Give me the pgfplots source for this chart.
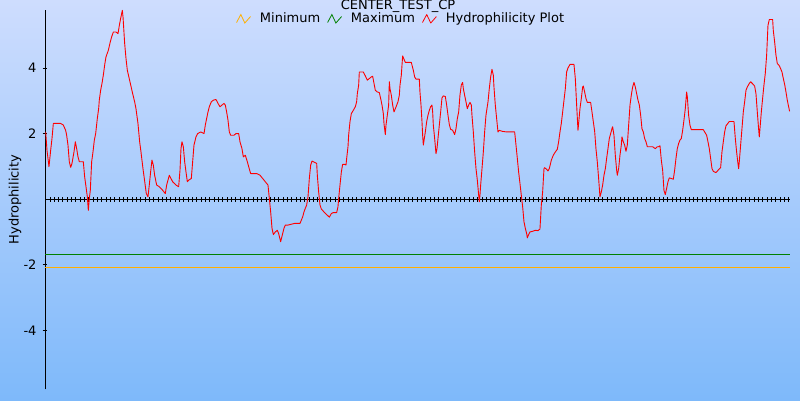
\documentclass[border=0pt]{standalone}
\usepackage{pgfplots}
\pgfplotsset{compat=1.18}
\usepackage{fontspec}
\setmainfont{DejaVu Sans}
\definecolor{bgtop}{RGB}{206,221,254}
\definecolor{bgbot}{RGB}{126,185,250}
\definecolor{minc}{RGB}{255,175,0}
\definecolor{maxc}{RGB}{0,128,0}
\begin{document}
\fontsize{13}{15}\selectfont
\begin{tikzpicture}
\shade[top color=bgtop, bottom color=bgbot] (0,0) rectangle (800pt,400pt);
\useasboundingbox (0,0) rectangle (800pt,400pt);
\begin{axis}[
  at={(45pt,10.7pt)}, anchor=south west,
  scale only axis, width=745pt, height=379.3pt,
  xmin=-0.16, xmax=172.3, ymin=-5.8, ymax=5.77,
  axis x line=middle, axis y line=left,
  axis line style={-, black, line width=1pt},
  xtick={1,...,172}, xticklabels={},
  ytick={-4,-2,2,4}, yticklabels={-4,-2,2,4},
  tick align=center, major tick length=5pt,
  every tick/.style={black, line width=1pt},
  yticklabel style={font=\fontsize{13}{15}\selectfont, xshift=-1.5pt},
  ylabel={Hydrophilicity},
  ylabel style={at={(axis description cs:-0.0403,0.5)}, anchor=center, font=\fontsize{13}{15}\selectfont},
  title={CENTER\_TEST\_CP},
  every axis title shift=0pt,
  title style={at={(axis description cs:0.4738,1.0)}, anchor=base, yshift=0pt, font=\fontsize{13}{15}\selectfont},
  legend columns=3,
  legend style={at={(axis description cs:0.478,0.9775)}, anchor=center, draw=none, fill=none,
    font=\fontsize{13}{15}\selectfont,
    /tikz/every odd column/.append style={column sep=7pt},
    /tikz/every even column/.append style={column sep=5pt}},
  legend image code/.code={\draw[#1, line width=0.8pt] (0pt,-4pt) -- (4.3pt,4pt) -- (8.3pt,-4.5pt) -- (14pt,2pt);},
  clip=false,
]
\addplot[minc, line width=1pt] coordinates {(-0.16,-2.08) (172.3,-2.08)};
\addlegendentry{Minimum}
\addplot[maxc, line width=1pt] coordinates {(-0.16,-1.69) (172.3,-1.69)};
\addlegendentry{Maximum}
\addplot[red, line width=0.9pt, line join=round] coordinates {
(0.0,2.05) (0.3,1.49) (0.76,0.99) (1.15,1.49) (1.46,1.85) (1.77,2.31) (3.46,2.31) (4.08,2.26) (4.62,2.10) (4.85,1.95) (5.16,1.65) (5.47,1.14) (5.78,0.97) (6.09,1.09) (6.55,1.44) (6.86,1.75) (7.17,1.54) (7.48,1.29) (7.79,1.14) (8.71,1.14) (9.02,0.68) (9.33,0.38) (9.64,0.07) (9.87,-0.34) (10.1,0.02) (10.33,0.27) (10.64,1.14) (10.95,1.44) (11.26,1.80) (11.57,2.00) (11.95,2.46) (12.26,2.76) (12.41,3.02) (12.72,3.32) (13.03,3.53) (13.34,3.78) (13.65,4.09) (13.96,4.34) (14.5,4.54) (14.96,4.80) (15.27,4.95) (15.66,5.10) (16.27,5.10) (16.74,5.05) (17.05,5.30) (17.35,5.51) (17.74,5.76) (17.9,5.56) (18.28,4.75) (18.59,4.29) (18.9,3.93) (19.51,3.58) (20.13,3.22) (20.59,2.97) (20.9,2.76) (21.36,2.31) (21.75,1.75) (22.06,1.44) (22.52,0.93) (22.83,0.63) (23.29,0.17) (23.68,0.07) (23.98,0.43) (24.29,0.83) (24.6,1.19) (24.91,1.04) (25.22,0.73) (25.69,0.43) (26.3,0.38) (27.08,0.27) (27.69,0.17) (28.0,0.43)
(28.62,0.73) (29.39,0.53) (30.16,0.43) (30.78,0.38) (31.09,0.88) (31.32,1.54) (31.55,1.75) (31.86,1.60) (32.17,1.14) (32.48,0.83) (32.79,0.53) (33.1,0.58) (33.71,0.63) (34.02,1.14) (34.33,1.65) (34.79,1.90) (35.18,2.00) (35.87,2.05) (36.65,2.00) (36.95,2.26) (37.26,2.46) (37.57,2.66) (37.88,2.82) (38.34,2.97) (38.81,3.02) (39.42,3.04) (39.89,2.92) (40.35,2.82) (40.81,2.87) (41.28,2.92) (41.58,2.87) (41.89,2.66) (42.2,2.41) (42.51,2.05) (42.82,1.95) (43.59,1.95) (44.05,2.00) (44.67,2.00) (44.98,1.75) (45.44,1.54) (45.75,1.29) (46.21,1.34) (46.68,1.14) (46.99,0.99) (47.45,0.78) (48.22,0.78) (48.84,0.78) (49.61,0.73) (50.23,0.63) (50.84,0.53) (51.46,0.43) (51.77,0.02) (52.08,-0.39) (52.39,-0.89) (52.7,-1.08) (53.16,-1.00) (53.62,-0.95) (53.93,-1.05) (54.39,-1.30) (54.86,-1.05) (55.16,-0.89) (55.47,-0.79) (56.09,-0.79) (56.71,-0.77)
(57.63,-0.74) (58.87,-0.74) (59.18,-0.64) (59.49,-0.54) (59.79,-0.39) (60.1,-0.28) (60.41,-0.18) (60.72,0.07) (61.03,0.63) (61.34,1.04) (61.65,1.16) (62.26,1.12) (62.73,1.09) (62.88,0.73) (63.19,0.22) (63.5,-0.18) (63.81,-0.30) (64.42,-0.39) (65.04,-0.47) (65.66,-0.55) (66.12,-0.44) (66.58,-0.41) (67.36,-0.41) (67.66,-0.23) (67.82,0.02) (68.13,0.43) (68.44,0.83) (68.74,1.06) (69.21,1.06) (69.52,1.04) (69.67,1.24) (69.98,1.60) (70.13,1.95) (70.44,2.36) (70.75,2.61) (71.21,2.71) (71.68,2.82) (71.98,2.97) (72.14,3.22) (72.45,3.48) (72.6,3.88) (73.53,3.88) (73.99,3.76) (74.45,3.63) (74.92,3.68) (75.38,3.73) (75.69,3.75) (76.0,3.53) (76.31,3.32) (76.77,3.27) (77.23,3.25) (77.54,3.07) (77.85,2.87) (78.16,2.61) (78.31,2.31) (78.62,1.97) (78.78,2.26) (79.08,2.56) (79.39,2.87) (79.55,3.58) (79.7,3.37) (80.01,3.17) (80.32,2.87) (80.63,2.66) (80.94,2.76) (81.55,2.97) (81.86,3.17) (82.02,3.48) (82.32,3.78) (82.63,4.37) (82.94,4.27) (83.25,4.17) (83.87,4.17) (84.64,4.17)
(85.1,3.93) (85.41,3.73) (85.72,3.66) (86.49,3.66) (86.64,3.27) (86.88,2.87) (87.11,2.36) (87.26,1.95) (87.42,1.65) (87.65,1.85) (87.88,2.05) (88.19,2.36) (88.5,2.56) (88.81,2.71) (89.11,2.82) (89.42,2.87) (89.58,2.66) (89.73,2.26) (90.04,1.85) (90.35,1.39) (90.58,1.54) (90.81,1.85) (91.12,2.26) (91.43,2.66) (91.74,3.09) (92.05,3.15) (92.51,3.13) (92.82,2.87) (93.13,2.56) (93.43,2.28) (93.74,2.13) (94.21,2.10) (94.67,1.97) (94.98,2.15) (95.29,2.46) (95.6,2.66) (95.9,3.17) (96.21,3.48) (96.52,3.56) (96.68,3.37) (96.98,3.17) (97.29,2.97) (97.6,2.76) (97.91,2.87) (98.22,2.95) (98.53,2.87) (98.68,2.56) (98.99,2.05) (99.3,1.44) (99.61,0.93) (99.92,0.58) (100.23,0.12) (100.38,-0.08) (100.53,0.12) (100.69,0.43) (101.0,0.93) (101.31,1.44) (101.61,2.05) (101.92,2.56) (102.39,2.97) (102.69,3.37) (103.0,3.73) (103.31,3.96) (103.62,3.78) (103.77,3.42) (104.08,2.87) (104.39,2.46) (104.7,2.05) (105.01,2.10) (105.63,2.07) (106.71,2.05) (108.56,2.05) (108.87,1.65) (109.18,1.24) (109.48,0.83) (109.79,0.48) (110.1,0.12) (110.41,-0.23) (110.72,-0.69) (111.03,-0.89) (111.34,-1.05) (111.49,-1.18) (111.8,-1.08) (112.11,-1.00) (112.72,-0.98) (113.34,-0.95)
(113.96,-0.96) (114.42,-0.91) (114.73,-0.18) (115.04,0.22) (115.35,0.93) (115.5,0.96) (115.97,0.91) (116.27,0.86) (116.58,0.93) (117.05,1.19) (117.51,1.34) (117.97,1.44) (118.43,1.52) (118.74,1.75) (119.05,2.05) (119.36,2.31) (119.67,2.66) (119.98,3.02) (120.29,3.37) (120.59,3.88) (120.9,4.00) (121.37,4.11) (122.29,4.11) (122.6,3.68) (122.91,2.87) (123.22,2.10) (123.37,2.31) (123.68,2.76) (123.99,3.07) (124.3,3.42) (124.45,3.45) (124.76,3.27) (125.07,3.07) (125.38,2.95) (126.15,2.95) (126.46,2.66) (126.77,2.36) (127.08,2.07) (127.38,1.54) (127.69,1.14) (128.0,0.63) (128.31,0.07) (128.62,0.22) (128.93,0.43) (129.24,0.73) (129.55,0.93) (129.85,1.24) (130.16,1.54) (130.47,1.85) (130.78,2.00) (131.09,2.15) (131.24,2.21) (131.55,1.95) (131.86,1.34) (132.17,0.88) (132.32,0.73) (132.63,0.93) (132.94,1.34) (133.25,1.65) (133.4,1.90) (133.71,1.75) (134.02,1.65) (134.33,1.46) (134.64,1.65) (134.95,2.26) (135.26,2.87) (135.56,3.17) (135.87,3.42) (136.18,3.56) (136.49,3.42) (136.8,3.22) (137.11,3.02) (137.42,2.87) (137.73,2.56) (138.03,2.15) (138.34,2.05) (138.65,1.85) (138.96,1.75) (139.27,1.60) (139.73,1.60) (140.5,1.60) (141.12,1.54) (141.58,1.60)
(141.89,1.60) (142.2,1.63) (142.51,1.19) (142.82,0.88) (143.12,0.27) (143.43,0.14) (143.74,0.33) (144.05,0.53) (144.36,0.65) (144.82,0.63) (145.29,0.61) (145.59,0.88) (145.9,1.24) (146.21,1.54) (146.52,1.70) (146.83,1.80) (147.14,1.85) (147.45,2.10) (147.75,2.41) (148.06,2.76) (148.37,3.27) (148.53,3.12) (148.83,2.56) (149.14,2.26) (149.45,2.12) (150.84,2.12) (152.23,2.12) (152.54,2.05) (153.0,1.95) (153.31,1.75) (153.62,1.54) (153.93,1.24) (154.24,0.93) (154.54,0.85) (155.16,0.81) (155.78,0.90) (156.24,0.96) (156.55,1.44) (156.86,1.75) (157.17,2.05) (157.48,2.24) (157.79,2.29) (158.25,2.37) (159.33,2.37) (159.64,1.85) (159.94,1.44) (160.25,1.09) (160.41,0.93) (160.56,1.14) (160.87,1.65) (161.18,2.15) (161.49,2.66) (161.8,2.97) (162.11,3.32) (162.41,3.42) (162.88,3.53) (163.19,3.58) (163.65,3.52) (164.11,3.45) (164.42,3.22) (164.73,2.66) (165.04,2.13) (165.19,1.90) (165.35,2.15) (165.66,2.66) (165.96,3.07) (166.27,3.48) (166.58,3.84) (166.89,4.39) (167.2,5.30) (167.51,5.48) (168.28,5.48) (168.43,5.15) (168.74,4.80) (169.05,4.39) (169.36,4.14) (169.82,4.07) (170.13,3.98) (170.44,3.88) (170.75,3.68) (171.06,3.50) (171.37,3.27) (171.67,3.02) (171.98,2.82) (172.21,2.68)
};
\addlegendentry{Hydrophilicity Plot}
\end{axis}
\end{tikzpicture}
\end{document}
